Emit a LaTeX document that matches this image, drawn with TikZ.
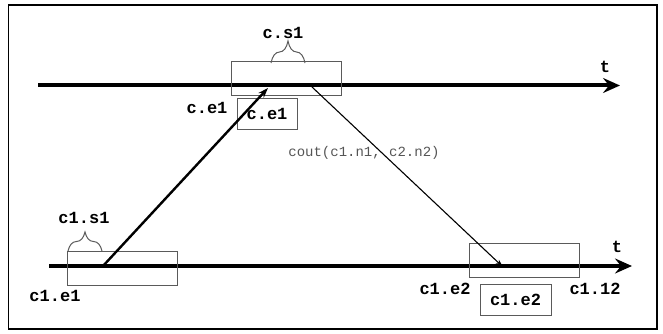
\documentclass[tikz,border=0pt]{standalone}
\usepackage{fontspec}
\setmonofont{Liberation Mono}
\usetikzlibrary{arrows.meta, positioning, decorations.pathreplacing}
\definecolor{boxgray}{RGB}{90, 90, 90}
\definecolor{msggray}{RGB}{85, 85, 85}
\tikzset{
  axis/.style={line width=4pt, -{Stealth[length=17pt, width=15pt, inset=6pt]}},
  send/.style={line width=2.4pt, -{Stealth[length=10pt, width=7pt]}},
  recv/.style={line width=1.1pt, -{Stealth[length=8pt, width=5pt]}},
  slot/.style={draw=boxgray, line width=1pt, minimum width=110pt, minimum height=34pt, inner sep=0pt},
  tag/.style={draw=boxgray, line width=1pt, minimum width=60pt, minimum height=30pt, inner sep=0pt},
  lbl/.style={font=\fontsize{17}{20}\selectfont\ttfamily\bfseries, inner sep=0pt},
  brc/.style={decorate, decoration={brace, amplitude=#1}, draw=boxgray, line width=1pt}
}

\begin{document}
\begin{tikzpicture}[x=1pt, y=-1pt]
                    \useasboundingbox (0,0) rectangle (663,334);
                    \draw[line width=1.5pt] (8.5,5) rectangle (657,329);
                    % time lines
                    \coordinate (topstart) at (38,85.5);
                    \coordinate (topend) at (620,85.5);
                    \coordinate (botstart) at (49,266);
                    \coordinate (botend) at (632,266);
                    \draw[axis] (topstart) -- (topend);
                    \draw[axis] (botstart) -- (botend);
                    \node[lbl] (ttop) at (605,67) {t};
                    \node[lbl] (tbot) at (617,247) {t};
                    % boxes
                    \node[slot] (cbox) at (286,79) {};
                    \node[slot] (c1box) at (122.5,268) {};
                    \node[slot] (c2box) at (524,260) {};
                    \node[tag, lbl] (ce1tag) at (267,114) {c.e1};
                    \node[tag, minimum width=71pt, minimum height=31pt, lbl] (c1e2tag) at (515.5,299.5) {c1.e2};
                    % braces
                    \coordinate (cs1a) at (271,63);
                    \coordinate (cs1b) at (305,63);
                    \draw[brc=22pt] (cs1a) -- (cs1b);
                    \node[lbl] (cs1) at (283,33) {c.s1};
                    \coordinate (c1s1a) at (68,251);
                    \coordinate (c1s1b) at (102,251);
                    \draw[brc=19pt] (c1s1a) -- (c1s1b);
                    \node[lbl] (c1s1) at (84,218) {c1.s1};
                    % labels
                    \node[lbl] (ce1) at (207,108) {c.e1};
                    \node[lbl] (c1e1) at (55,296) {c1.e1};
                    \node[lbl] (c1e2) at (445,289) {c1.e2};
                    \node[lbl] (c1l2) at (595,289) {c1.12};
                    % messages
                    \coordinate (sendfrom) at (103,266);
                    \coordinate (sendto) at (268,88);
                    \coordinate (recvfrom) at (312,87);
                    \coordinate (recvto) at (503,267);
                    \draw[send] (sendfrom) -- (sendto);
                    \draw[recv] (recvfrom) -- (recvto);
                    \node[font=\fontsize{14}{16}\selectfont\ttfamily, text=msggray, inner sep=0pt] (cout) at (364,153) {cout(c1.n1, c2.n2)};
                \end{tikzpicture}
\end{document}
